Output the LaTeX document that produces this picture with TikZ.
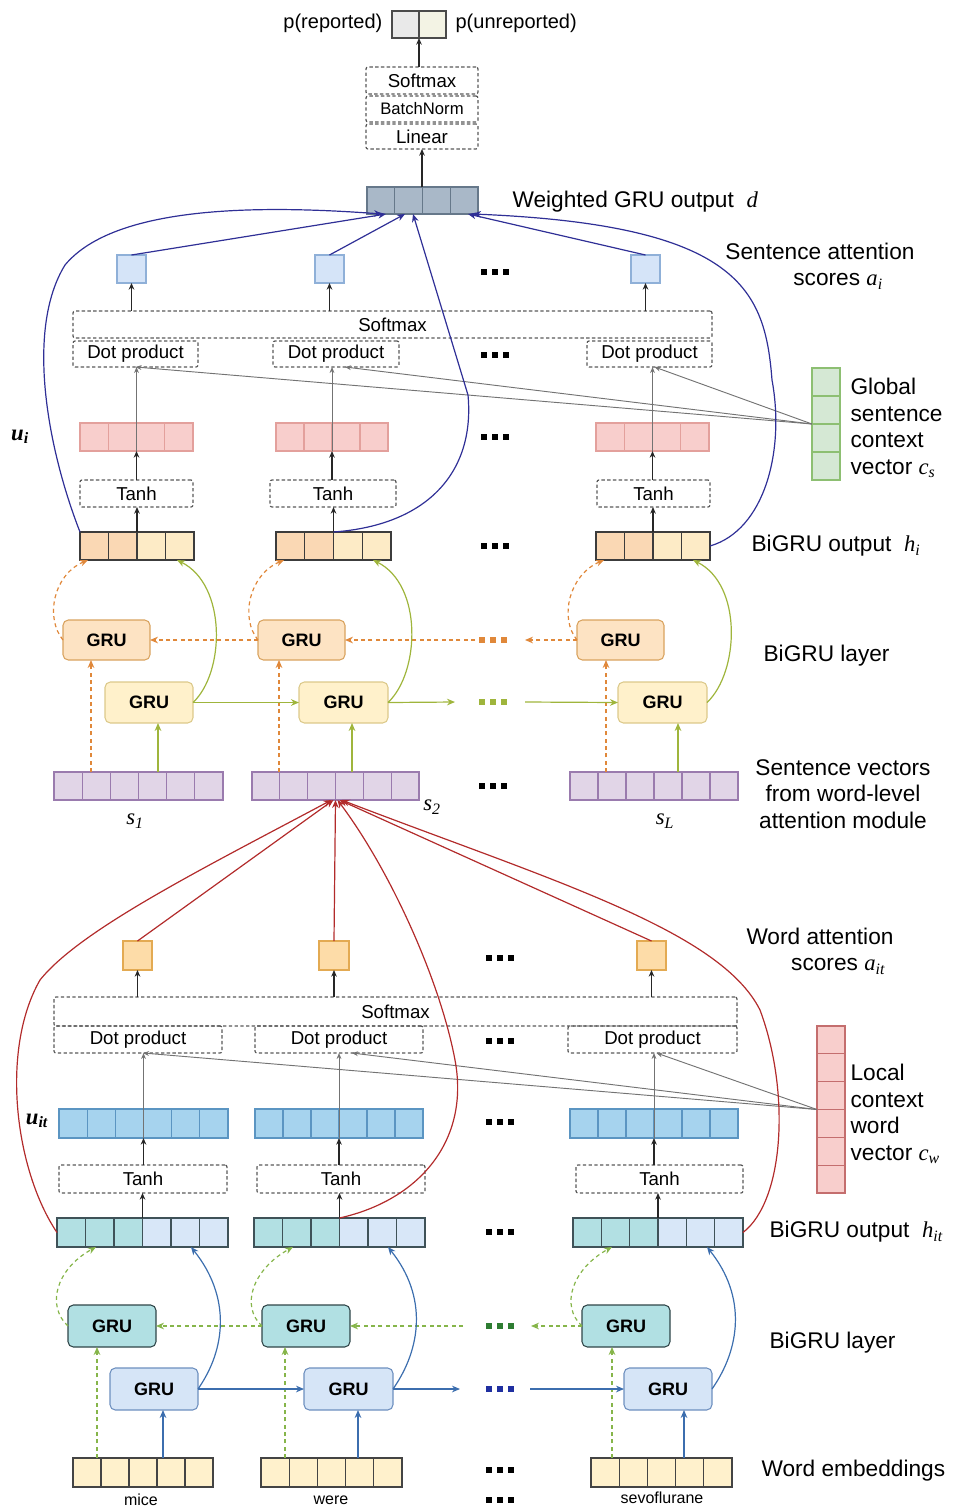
\documentclass[tikz,border=0pt]{standalone}
\usepackage{fontspec}
\setmainfont{Liberation Sans}
\newfontfamily\serfont{Liberation Serif}
\usetikzlibrary{arrows.meta,calc}

\definecolor{outL}{HTML}{E9E9E9}
\definecolor{outR}{HTML}{F3F3E4}
\definecolor{outB}{HTML}{4A4A4A}
\definecolor{dfill}{HTML}{A9B8C8}
\definecolor{dline}{HTML}{66788A}
\definecolor{sqfill}{HTML}{D5E4F8}
\definecolor{sqline}{HTML}{8FB0D8}
\definecolor{ufill}{HTML}{F8CECC}
\definecolor{uline}{HTML}{E3A09C}
\definecolor{hL}{HTML}{FAD8B4}
\definecolor{hR}{HTML}{FDEBC6}
\definecolor{hline}{HTML}{3C3C3C}
\definecolor{gfill}{HTML}{D5E8D4}
\definecolor{gline}{HTML}{8DBF72}
\definecolor{bSfill}{HTML}{FDE3C3}
\definecolor{bSline}{HTML}{D9A35F}
\definecolor{fSfill}{HTML}{FFF1CB}
\definecolor{fSline}{HTML}{DCC98A}
\definecolor{pfill}{HTML}{E1D5E7}
\definecolor{pline}{HTML}{9A7BAE}
\definecolor{wsqfill}{HTML}{FDDCA8}
\definecolor{wsqline}{HTML}{E3AA52}
\definecolor{uwfill}{HTML}{A6D3EE}
\definecolor{uwline}{HTML}{5B95C2}
\definecolor{hwL}{HTML}{B2E0E3}
\definecolor{hwR}{HTML}{D8E7F8}
\definecolor{hwline}{HTML}{3F5258}
\definecolor{cwfill}{HTML}{F8CECC}
\definecolor{cwline}{HTML}{C46E6E}
\definecolor{bWfill}{HTML}{B1E0E3}
\definecolor{bWline}{HTML}{2F4548}
\definecolor{fWfill}{HTML}{D6E5F7}
\definecolor{fWline}{HTML}{6D8FBF}
\definecolor{efill}{HTML}{FFF1CC}
\definecolor{eline}{HTML}{444444}
\definecolor{navyc}{HTML}{2F2F96}
\definecolor{sgreen}{HTML}{9FB53C}
\definecolor{sorange}{HTML}{E0883A}
\definecolor{wblue}{HTML}{3C6EAE}
\definecolor{wgreen}{HTML}{86B54A}
\definecolor{dgreen}{HTML}{2E7D32}
\definecolor{dblue}{HTML}{1F2FA0}
\definecolor{redc}{HTML}{B22B2B}

% italic serif symbols with subscripts
\newcommand\vsym[2]{{\serfont\itshape #1\textsubscript{#2}}}
\newcommand\vsymb[2]{{\serfont\bfseries\itshape #1\textsubscript{#2}}}

% a box given by its corners (pixel units, y downwards)
\newcommand\boxat[7]{\node[#6,inner sep=0pt,outer sep=0pt,minimum width={(#4-#2)*0.75pt},minimum height={(#5-#3)*0.75pt}] (#1) at ({(#2+#4)/2},{(#3+#5)/2}) {#7};}
% a horizontal vector of n cells
\newcommand\vecbox[8]{%
  \boxat{#1}{#2}{#3}{#4}{#5}{draw=#8,fill=#7,cellline}{}%
  \foreach \k in {1,...,#6}{\ifnum\k<#6\relax
    \draw[#8,cellline] ($(#1.north west)!\k/#6!(#1.north east)$) -- ($(#1.south west)!\k/#6!(#1.south east)$);\fi}}
% a vertical vector of n cells
\newcommand\vvecbox[8]{%
  \boxat{#1}{#2}{#3}{#4}{#5}{draw=#8,fill=#7,cellline}{}%
  \foreach \k in {1,...,#6}{\ifnum\k<#6\relax
    \draw[#8,cellline] ($(#1.north west)!\k/#6!(#1.south west)$) -- ($(#1.north east)!\k/#6!(#1.south east)$);\fi}}
% a vector whose two halves have different fills
\newcommand\splitvec[9]{%
  \boxat{#1}{#2}{#3}{#4}{#5}{}{}%
  \fill[#7] (#1.north west) rectangle (#1.south);
  \fill[#8] (#1.north) rectangle (#1.south east);
  \foreach \k in {1,...,#6}{\ifnum\k<#6\relax
    \draw[#9,cellline] ($(#1.north west)!\k/#6!(#1.north east)$) -- ($(#1.south west)!\k/#6!(#1.south east)$);\fi}%
  \draw[#9,cellline] (#1.north west) rectangle (#1.south east);}
% three square dots
\newcommand\tridots[3]{\foreach \k in {-11,0,11}{\fill[#3] ({#1+\k-3},{#2-3}) rectangle ({#1+\k+3},{#2+3});}}

\tikzset{
  cellline/.style={line width=0.8pt},
  big/.style={font=\fontsize{17}{20}\selectfont, inner sep=1pt},
  mid/.style={font=\fontsize{15}{17}\selectfont, inner sep=1pt},
  dbox/.style={draw=black!65, dash pattern=on 2.5pt off 1.8pt, line width=0.9pt, rounded corners=1.5pt, font=\fontsize{14}{16}\selectfont},
  grubox/.style={rounded corners=4pt, line width=0.8pt, font=\bfseries\fontsize{13.5}{15}\selectfont},
  arr/.style={draw=black!85, line width=0.8pt, -{Stealth[length=5pt,width=4.2pt]}},
  garr/.style={draw=black!55, line width=0.7pt, -{Stealth[length=4.5pt,width=3.6pt]}},
  navyarr/.style={draw=navyc, line width=0.9pt, -{Stealth[length=6pt,width=5pt]}},
  redarr/.style={draw=redc, line width=0.9pt, -{Stealth[length=6pt,width=5pt]}},
  sgarr/.style={draw=sgreen, line width=0.9pt, -{Stealth[length=6pt,width=5pt]}},
  soarr/.style={draw=sorange, line width=0.9pt, dash pattern=on 3pt off 2.5pt, -{Stealth[length=6pt,width=5pt]}},
  wbarr/.style={draw=wblue, line width=0.9pt, -{Stealth[length=6pt,width=5pt]}},
  wgarr/.style={draw=wgreen, line width=0.9pt, dash pattern=on 3pt off 2.5pt, -{Stealth[length=6pt,width=5pt]}},
}

\begin{document}
\begin{tikzpicture}[x=0.75pt,y=-0.75pt]
\useasboundingbox (0,0) rectangle (958,1511);

% ---------- output head ----------
\splitvec{out}{392}{11}{446}{38}{2}{outL}{outR}{outB}
\node[mid,anchor=east] (prep) at (384,23) {p(reported)};
\node[mid,anchor=west] (punrep) at (454,23) {p(unreported)};
\boxat{smT}{366}{67}{478}{94}{dbox}{Softmax}
\boxat{bnT}{366}{96}{478}{122}{dbox,font=\fontsize{12.5}{14}\selectfont}{BatchNorm}
\boxat{linT}{366}{124}{478}{149}{dbox}{Linear}
\vecbox{d}{367}{187}{478}{214}{4}{dfill}{dline}
\draw[arr] (out.south |- smT.north) -- (out.south);
\draw[arr] (d.north -| linT.south) -- (linT.south);
\node[big,anchor=west] (dlab) at (511,202) {Weighted GRU output~~\vsym{d}{}};

% ---------- sentence attention ----------
\boxat{a1}{117}{255}{146}{283}{draw=sqline,fill=sqfill,cellline}{}
\boxat{a2}{315}{255}{344}{283}{draw=sqline,fill=sqfill,cellline}{}
\boxat{a3}{631}{255}{660}{283}{draw=sqline,fill=sqfill,cellline}{}
\tridots{495}{272}{black}
\node[big,align=center] (salab) at (820,266) {Sentence attention\\\hspace*{1.6em}scores \vsym{a}{i}};
\boxat{smS}{73}{311}{712}{338}{dbox}{Softmax}
\boxat{dpS1}{73}{341}{198}{367}{dbox}{Dot product}
\boxat{dpS2}{273}{341}{399}{367}{dbox}{Dot product}
\boxat{dpS3}{587}{341}{712}{367}{dbox}{Dot product}
\tridots{495}{355}{black}
\foreach \i in {1,2,3}{\draw[arr] (a\i.south |- smS.north) -- (a\i.south);}

\vvecbox{cs}{812}{368}{840}{480}{4}{gfill}{gline}
\node[big,anchor=west,align=left] (cslab) at (849,428) {Global\\sentence\\context\\vector \vsym{c}{s}};

\vecbox{u1}{80}{423}{193}{451}{4}{ufill}{uline}
\vecbox{u2}{276}{423}{388}{451}{4}{ufill}{uline}
\vecbox{u3}{596}{423}{709}{451}{4}{ufill}{uline}
\node[big] (uilab) at (20,437) {\vsymb{u}{i}};
\tridots{495}{437}{black}

\boxat{tS1}{80}{480}{193}{507}{dbox}{Tanh}
\boxat{tS2}{270}{480}{396}{507}{dbox}{Tanh}
\boxat{tS3}{597}{480}{710}{507}{dbox}{Tanh}

\splitvec{h1}{80}{532}{194}{560}{4}{hL}{hR}{hline}
\splitvec{h2}{276}{532}{391}{560}{4}{hL}{hR}{hline}
\splitvec{h3}{596}{532}{710}{560}{4}{hL}{hR}{hline}
\tridots{495}{546}{black}
\node[big,anchor=west] (hilab) at (750,546) {BiGRU output~~\vsym{h}{i}};

% sentence-level BiGRU
\boxat{bS1}{63}{620}{150}{660}{grubox,draw=bSline,fill=bSfill}{GRU}
\boxat{bS2}{258}{620}{345}{660}{grubox,draw=bSline,fill=bSfill}{GRU}
\boxat{bS3}{577}{620}{664}{660}{grubox,draw=bSline,fill=bSfill}{GRU}
\boxat{fS1}{105}{682}{193}{723}{grubox,draw=fSline,fill=fSfill}{GRU}
\boxat{fS2}{299}{682}{388}{723}{grubox,draw=fSline,fill=fSfill}{GRU}
\boxat{fS3}{618}{682}{707}{723}{grubox,draw=fSline,fill=fSfill}{GRU}
\node[big,anchor=west] (blS) at (762,656) {BiGRU layer};
\tridots{493}{640}{sorange}
\tridots{493}{702}{sgreen}

\vecbox{s1}{54}{772}{223}{800}{6}{pfill}{pline}
\vecbox{s2}{252}{772}{419}{800}{6}{pfill}{pline}
\vecbox{sL}{570}{772}{738}{800}{6}{pfill}{pline}
\node[big] (s1lab) at (135,821) {\vsym{s}{1}};
\node[big] (s2lab) at (432,807) {\vsym{s}{2}};
\node[big] (sLlab) at (665,821) {\vsym{s}{L}};
\tridots{493}{786}{black}
\node[big,align=center] (svlab) at (843,794) {Sentence vectors\\from word-level\\attention module};

% ---------- word attention ----------
\boxat{w1}{123}{941}{152}{970}{draw=wsqline,fill=wsqfill,cellline}{}
\boxat{w2}{319}{941}{349}{970}{draw=wsqline,fill=wsqfill,cellline}{}
\boxat{w3}{637}{941}{666}{970}{draw=wsqline,fill=wsqfill,cellline}{}
\tridots{500}{958}{black}
\node[big,align=center] (walab) at (820,951) {Word attention\\\hspace*{1.6em}scores \vsym{a}{it}};
\boxat{smW}{54}{997}{737}{1026}{dbox}{Softmax}
\boxat{dpW1}{54}{1026}{222}{1053}{dbox}{Dot product}
\boxat{dpW2}{255}{1026}{423}{1053}{dbox}{Dot product}
\boxat{dpW3}{568}{1026}{737}{1053}{dbox}{Dot product}
\tridots{500}{1041}{black}
\foreach \i in {1,2,3}{\draw[arr] (w\i.south |- smW.north) -- (w\i.south);}

\vvecbox{cw}{817}{1026}{845}{1193}{6}{cwfill}{cwline}
\node[big,anchor=west,align=left] (cwlab) at (849,1114) {Local\\context\\word\\vector \vsym{c}{w}};

\vecbox{uW1}{59}{1109}{228}{1138}{6}{uwfill}{uwline}
\vecbox{uW2}{255}{1109}{423}{1138}{6}{uwfill}{uwline}
\vecbox{uW3}{570}{1109}{738}{1138}{6}{uwfill}{uwline}
\node[big] (uitlab) at (37,1121) {\vsymb{u}{it}};
\tridots{500}{1122}{black}

\boxat{tW1}{59}{1165}{227}{1193}{dbox}{Tanh}
\boxat{tW2}{257}{1165}{425}{1193}{dbox}{Tanh}
\boxat{tW3}{576}{1165}{743}{1193}{dbox}{Tanh}

\splitvec{hW1}{57}{1218}{228}{1247}{6}{hwL}{hwR}{hwline}
\splitvec{hW2}{254}{1218}{425}{1247}{6}{hwL}{hwR}{hwline}
\splitvec{hW3}{573}{1218}{743}{1247}{6}{hwL}{hwR}{hwline}
\tridots{500}{1232}{black}
\node[big,anchor=west] (hitlab) at (768,1232) {BiGRU output~~\vsym{h}{it}};

% word-level BiGRU
\boxat{bW1}{68}{1305}{156}{1347}{grubox,draw=bWline,fill=bWfill}{GRU}
\boxat{bW2}{262}{1305}{350}{1347}{grubox,draw=bWline,fill=bWfill}{GRU}
\boxat{bW3}{582}{1305}{670}{1347}{grubox,draw=bWline,fill=bWfill}{GRU}
\boxat{fW1}{110}{1368}{198}{1410}{grubox,draw=fWline,fill=fWfill}{GRU}
\boxat{fW2}{304}{1368}{393}{1410}{grubox,draw=fWline,fill=fWfill}{GRU}
\boxat{fW3}{624}{1368}{712}{1410}{grubox,draw=fWline,fill=fWfill}{GRU}
\node[big,anchor=west] (blW) at (768,1343) {BiGRU layer};
\tridots{500}{1326}{dgreen}
\tridots{500}{1389}{dblue}

\vecbox{e1}{73}{1458}{213}{1487}{5}{efill}{eline}
\vecbox{e2}{261}{1458}{402}{1487}{5}{efill}{eline}
\vecbox{e3}{591}{1458}{732}{1487}{5}{efill}{eline}
\node[font=\fontsize{12}{14}\selectfont] (mice) at (141,1500) {mice};
\node[font=\fontsize{12}{14}\selectfont] (were) at (331,1500) {were};
\node[font=\fontsize{12}{14}\selectfont] (sevo) at (662,1498) {sevoflurane};
\tridots{500}{1470}{black}
\tridots{500}{1500}{black}
\node[big,anchor=west] (embl) at (760,1471) {Word embeddings};

% ---------- connectors: sentence level ----------
\foreach \i in {1,2,3}{
  \draw[arr] (h\i.north) -- (h\i.north |- tS\i.south);
  \draw[arr] (tS\i.north -| u\i.south) -- (u\i.south);
}
\draw[garr] (u1.south) -- (u1.south |- dpS1.south);
\draw[garr] (u2.south) -- (u2.south |- dpS2.south);
\draw[garr] (u3.south) -- (u3.south |- dpS3.south);
\draw[garr] (cs.west) -- (dpS1.south);
\draw[garr] (cs.west) -- ($(dpS2.south)+(9,0)$);
\draw[garr] (cs.west) -- ($(dpS3.south)+(5,0)$);

\draw[navyarr] (a1.north) -- ($(d.south west)+(19,0)$);
\draw[navyarr] (a2.north) -- ($(d.south west)+(38,0)$);
\draw[navyarr] (a3.north) -- ($(d.south west)+(101,0)$);
\draw[navyarr] (h1.north west) .. controls (48,450) and (25,330) .. (65,265)
   .. controls (115,205) and (260,205) .. ($(d.south west)+(15,0)$);
\draw[navyarr] (h2.north) .. controls (430,525) and (475,470) .. (468,395)
   -- ($(d.south west)+(46,0)$);
\draw[navyarr] (h3.east) .. controls (765,530) and (785,450) .. (772,380)
   .. controls (765,290) and (740,225) .. ($(d.south west)+(106,0)$);

% sentence-level GRU flows
\draw[soarr] ($(s1.north west)+(37,0)$) -- ($(bS1.south west)+(28,0)$);
\draw[sgarr] ($(s1.north west)+(104,0)$) -- ($(fS1.south west)+(53,0)$);
\draw[soarr] ($(s2.north west)+(27,0)$) -- ($(bS2.south west)+(21,0)$);
\draw[sgarr] ($(s2.north west)+(100,0)$) -- ($(fS2.south west)+(53,0)$);
\draw[soarr] ($(sL.north west)+(36,0)$) -- ($(bS3.south west)+(29,0)$);
\draw[sgarr] ($(sL.north west)+(108,0)$) -- ($(fS3.south west)+(60,0)$);

\coordinate (fSend) at (455,702);
\coordinate (fSbeg) at (525,702);
\coordinate (bSbeg) at (475,640);
\coordinate (bSend) at (525,640);
\draw[sgarr] (fS1.east) -- (fS2.west);
\draw[sgarr] (fS2.east) -- (fSend);
\draw[sgarr] (fSbeg) -- (fS3.west);
\draw[soarr] (bS2.west) -- (bS1.east);
\draw[soarr] (bSbeg) -- (bS2.east);
\draw[soarr] (bS3.west) -- (bSend);

\foreach \i in {1,2,3}{
  \draw[sgarr] (fS\i.east) .. controls +(32,-30) and +(50,25) .. ($(h\i.south west)+(97,0)$);
  \draw[soarr] (bS\i.west) .. controls +(-18,-22) and +(-35,15) .. ($(h\i.south west)+(8,0)$);
}

% ---------- connectors: word level ----------
\foreach \i in {1,2,3}{
  \draw[arr] (hW\i.north) -- (hW\i.north |- tW\i.south);
  \draw[arr] (tW\i.north -| uW\i.south) -- (uW\i.south);
  \draw[garr] (uW\i.south) -- (uW\i.south |- dpW\i.south);
}
\draw[garr] (cw.west) -- ($(dpW1.south)+(5,0)$);
\draw[garr] (cw.west) -- ($(dpW2.south)+(13,0)$);
\draw[garr] (cw.west) -- ($(dpW3.south)+(4,0)$);

\draw[redarr] (w1.north) -- ($(s2.south)+(-2,0)$);
\draw[redarr] (w2.north) -- ($(s2.south)+(0,0)$);
\draw[redarr] (w3.north) -- ($(s2.south)+(4,0)$);
\draw[redarr] (hW1.west) .. controls (15,1170) and (0,1050) .. (40,980)
   .. controls (80,930) and (200,870) .. ($(s2.south)+(-4,0)$);
\draw[redarr] (hW2.north) .. controls (420,1200) and (470,1140) .. (455,1060)
   .. controls (440,980) and (390,870) .. ($(s2.south)+(2,0)$);
\draw[redarr] (hW3.east) .. controls (785,1200) and (790,1090) .. (760,1010)
   .. controls (720,930) and (550,880) .. ($(s2.south)+(6,0)$);

\draw[wgarr] ($(e1.north west)+(24,0)$) -- ($(bW1.south west)+(29,0)$);
\draw[wbarr] ($(e1.north west)+(90,0)$) -- ($(fW1.south west)+(53,0)$);
\draw[wgarr] ($(e2.north west)+(24,0)$) -- ($(bW2.south west)+(23,0)$);
\draw[wbarr] ($(e2.north west)+(97,0)$) -- ($(fW2.south west)+(54,0)$);
\draw[wgarr] ($(e3.north west)+(21,0)$) -- ($(bW3.south west)+(30,0)$);
\draw[wbarr] ($(e3.north west)+(93,0)$) -- ($(fW3.south west)+(60,0)$);

\coordinate (fWend) at (460,1389);
\coordinate (fWbeg) at (530,1389);
\coordinate (bWbeg) at (463,1326);
\coordinate (bWend) at (531,1326);
\draw[wbarr] (fW1.east) -- (fW2.west);
\draw[wbarr] (fW2.east) -- (fWend);
\draw[wbarr] (fWbeg) -- (fW3.west);
\draw[wgarr] (bW2.west) -- (bW1.east);
\draw[wgarr] (bWbeg) -- (bW2.east);
\draw[wgarr] (bW3.west) -- (bWend);

\foreach \i in {1,2,3}{
  \draw[wbarr] (fW\i.east) .. controls +(28,-40) and +(40,50) .. ($(hW\i.south west)+(134,0)$);
  \draw[wgarr] (bW\i.west) .. controls +(-22,-20) and +(-40,22) .. ($(hW\i.south west)+(39,0)$);
}
\end{tikzpicture}
\end{document}
